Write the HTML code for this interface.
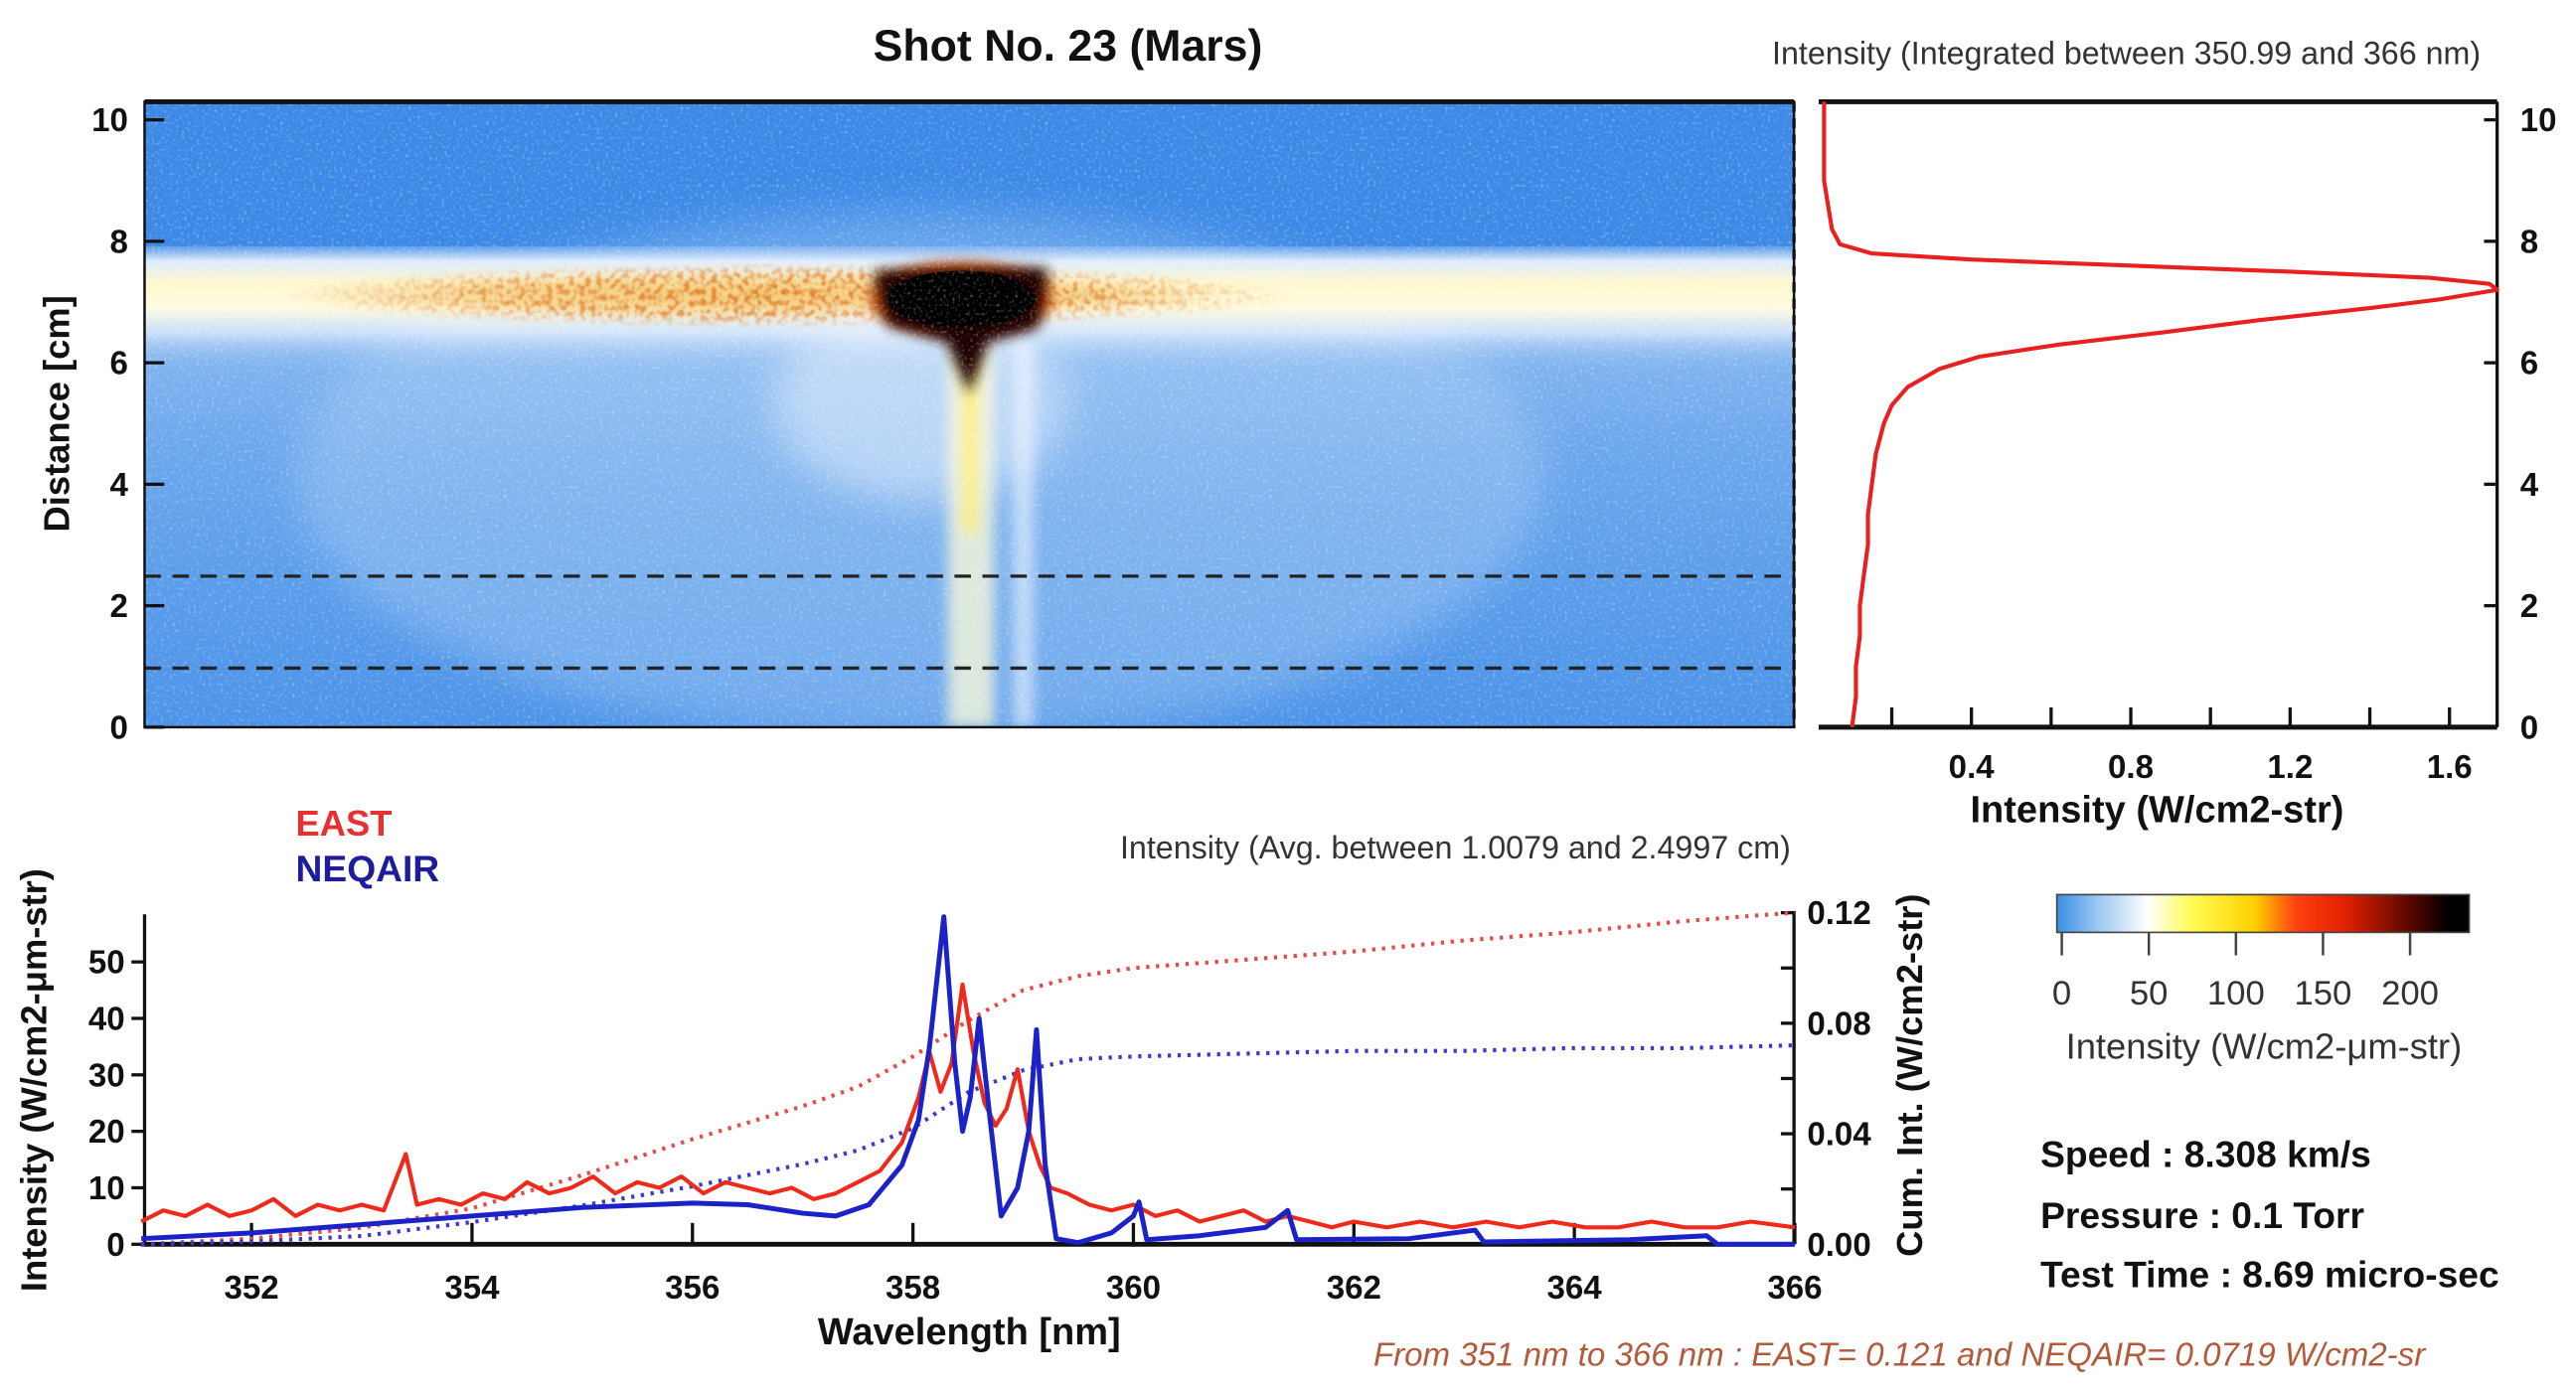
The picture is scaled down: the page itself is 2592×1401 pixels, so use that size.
<!DOCTYPE html>
<html><head><meta charset="utf-8">
<style>
html,body{margin:0;padding:0;background:#fff;}
svg{display:block;}
text{font-family:"Liberation Sans",Arial,sans-serif;}
.t{font-weight:bold;font-size:20px;fill:#111;}
</style></head>
<body>
<svg id="fig" width="2592" height="1401" viewBox="0 0 1568 848" preserveAspectRatio="none" xmlns="http://www.w3.org/2000/svg">
<defs>
  <filter id="blur4" x="-50%" y="-50%" width="200%" height="200%"><feGaussianBlur stdDeviation="4"/></filter>
  <filter id="blur2" x="-50%" y="-50%" width="200%" height="200%"><feGaussianBlur stdDeviation="1.5"/></filter>
  <filter id="blur8" x="-50%" y="-50%" width="200%" height="200%"><feGaussianBlur stdDeviation="12"/></filter>
  <filter id="speckle" x="0" y="0" width="100%" height="100%">
    <feTurbulence type="fractalNoise" baseFrequency="0.55" numOctaves="1" seed="3" result="n"/>
    <feColorMatrix in="n" type="matrix" values="0 0 0 0 1  0 0 0 0 1  0 0 0 0 1  0 0 0 3.2 -1.75"/>
  </filter>
  <filter id="speckleO" x="0" y="0" width="100%" height="100%">
    <feTurbulence type="fractalNoise" baseFrequency="0.3" numOctaves="1" seed="7" result="n"/>
    <feColorMatrix in="n" type="matrix" values="0 0 0 0 0.75  0 0 0 0 0.22  0 0 0 0 0.02  0 0 0 4 -1.8"/>
  </filter>
  <radialGradient id="bandMaskGrad" cx="0.5" cy="0.5" r="0.5">
    <stop offset="0" stop-color="#fff"/>
    <stop offset="0.6" stop-color="#fff" stop-opacity="0.8"/>
    <stop offset="1" stop-color="#fff" stop-opacity="0"/>
  </radialGradient>
  <mask id="bandMask"><rect x="170" y="160" width="620" height="40" fill="url(#bandMaskGrad)"/></mask>
  <linearGradient id="bandGrad" x1="0" y1="0" x2="0" y2="1">
    <stop offset="0" stop-color="#dbeaff" stop-opacity="0.2"/>
    <stop offset="0.12" stop-color="#eef5ff" stop-opacity="0.9"/>
    <stop offset="0.3" stop-color="#fff8d0"/>
    <stop offset="0.5" stop-color="#fffbe0"/>
    <stop offset="0.7" stop-color="#eef5ff" stop-opacity="0.8"/>
    <stop offset="1" stop-color="#cfe3fb" stop-opacity="0"/>
  </linearGradient>
  <linearGradient id="lowGrad" x1="0" y1="0" x2="0" y2="1">
    <stop offset="0" stop-color="#cfe3fb" stop-opacity="0"/>
    <stop offset="0.1" stop-color="#b5d4f6" stop-opacity="0.55"/>
    <stop offset="0.3" stop-color="#9cc6f3" stop-opacity="0.5"/>
    <stop offset="1" stop-color="#6aa6ec" stop-opacity="0.35"/>
  </linearGradient>
  <linearGradient id="cbGrad" x1="0" y1="0" x2="1" y2="0">
    <stop offset="0" stop-color="#3a8ee8"/>
    <stop offset="0.1" stop-color="#9cc8f2"/>
    <stop offset="0.22" stop-color="#ffffff"/>
    <stop offset="0.33" stop-color="#fffb50"/>
    <stop offset="0.48" stop-color="#ffd000"/>
    <stop offset="0.58" stop-color="#ff4010"/>
    <stop offset="0.7" stop-color="#e02000"/>
    <stop offset="0.85" stop-color="#600800"/>
    <stop offset="0.95" stop-color="#000"/>
  </linearGradient>
  <clipPath id="hmClip"><rect x="88" y="62" width="1004" height="381"/></clipPath>
</defs>

<text x="650" y="37" text-anchor="middle" font-size="27" font-weight="bold" fill="#111">Shot No. 23 (Mars)</text>

<g id="heatmap" clip-path="url(#hmClip)">
  <rect x="88" y="62" width="1004" height="381" fill="#3d8ae6"/>
  <rect x="88" y="200" width="1004" height="243" fill="url(#lowGrad)"/>
  <ellipse cx="560" cy="290" rx="380" ry="160" fill="#b9d8f8" opacity="0.35" filter="url(#blur8)"/>
  <rect x="88" y="150" width="1004" height="75" fill="url(#bandGrad)"/>
  <g mask="url(#bandMask)">
    <ellipse cx="450" cy="180" rx="290" ry="11" fill="#f0c060" opacity="0.7" filter="url(#blur4)"/>
    <rect x="170" y="160" width="620" height="40" filter="url(#speckleO)" opacity="0.95"/>
    <g filter="url(#blur2)"><rect x="170" y="160" width="620" height="40" filter="url(#speckleO)" opacity="0.6"/></g>
  </g>
  <ellipse cx="560" cy="245" rx="90" ry="60" fill="#f4f8ff" opacity="0.45" filter="url(#blur8)"/>
  <rect x="577" y="205" width="28" height="238" fill="#fffbd8" opacity="0.75" filter="url(#blur4)"/>
  <rect x="586" y="205" width="9" height="120" fill="#fff070" opacity="0.8" filter="url(#blur4)"/>
  <rect x="617" y="205" width="12" height="238" fill="#f4f8ff" opacity="0.6" filter="url(#blur4)"/>
  <ellipse cx="585" cy="182" rx="55" ry="22" fill="#c04000" filter="url(#blur4)"/>
  <path d="M532,165 L638,163 L632,200 L602,208 L590,240 L576,208 L540,198 Z" fill="#1a0400" filter="url(#blur4)"/>
  <ellipse cx="585" cy="182" rx="45" ry="17" fill="#000"/>
  <rect x="88" y="62" width="1004" height="381" filter="url(#speckle)" opacity="0.35"/>
  <line x1="88" y1="351" x2="1092" y2="351" stroke="#222" stroke-width="2" stroke-dasharray="10,7"/>
  <line x1="88" y1="407" x2="1092" y2="407" stroke="#222" stroke-width="2" stroke-dasharray="10,7"/>
</g>
<rect x="88" y="62" width="1004" height="381" fill="none" stroke="#111" stroke-width="1.5"/>
<line x1="88" y1="62" x2="1092" y2="62" stroke="#111" stroke-width="3"/>
<line x1="1092" y1="62" x2="1092" y2="443" stroke="#111" stroke-width="2" stroke-dasharray="6,4"/>
<g id="hmAxis"></g>
<text transform="translate(42,252) rotate(-90)" text-anchor="middle" font-size="22" font-weight="bold" fill="#111">Distance [cm]</text>

<text x="1510" y="39" text-anchor="end" font-size="19.5" fill="#333">Intensity (Integrated between 350.99 and 366 nm)</text>
<g id="profile"></g>
<text x="1313" y="501" text-anchor="middle" font-size="23" font-weight="bold" fill="#111">Intensity (W/cm2-str)</text>

<text x="180" y="509" font-size="22" font-weight="bold" fill="#e83030">EAST</text>
<text x="180" y="537" font-size="22.5" font-weight="bold" fill="#1c1c9c">NEQAIR</text>
<text x="1090" y="523" text-anchor="end" font-size="19.5" fill="#333">Intensity (Avg. between 1.0079 and 2.4997 cm)</text>
<g id="spec"></g>
<text transform="translate(28,658) rotate(-90)" text-anchor="middle" font-size="22" font-weight="bold" fill="#111">Intensity (W/cm2-μm-str)</text>
<text transform="translate(1170,655) rotate(-90)" text-anchor="middle" font-size="22" font-weight="bold" fill="#111">Cum. Int. (W/cm2-str)</text>
<text x="590" y="819" text-anchor="middle" font-size="23" font-weight="bold" fill="#111">Wavelength [nm]</text>

<g id="cbar">
  <rect x="1252" y="545" width="251" height="23" fill="url(#cbGrad)" stroke="#444" stroke-width="1"/>
</g>
<text x="1378" y="645" text-anchor="middle" font-size="22" fill="#333">Intensity (W/cm2-μm-str)</text>

<text x="1242" y="711" font-size="22.5" font-weight="bold" fill="#111">Speed : 8.308 km/s</text>
<text x="1242" y="748" font-size="22.5" font-weight="bold" fill="#111">Pressure : 0.1 Torr</text>
<text x="1242" y="784" font-size="22.5" font-weight="bold" fill="#111">Test Time : 8.69 micro-sec</text>
<text x="836" y="832" font-size="20" font-style="italic" fill="#b35a3a">From 351 nm to 366 nm :  EAST= 0.121 and NEQAIR= 0.0719 W/cm2-sr</text>
</svg>

<script>
// ---- Data ----
const distTicks = [0, 2, 4, 6, 8, 10];
const profDist = [0, 0.5, 1, 1.5, 2, 2.5, 3, 3.5, 4, 4.5, 5, 5.3, 5.6, 5.9, 6.1, 6.3, 6.5, 6.7, 6.9, 7.05, 7.2, 7.3, 7.4, 7.5, 7.6, 7.7, 7.8, 7.95, 8.2, 8.6, 9, 9.5, 10, 10.3];
const profInt  = [0.10, 0.11, 0.11, 0.12, 0.12, 0.13, 0.14, 0.14, 0.15, 0.16, 0.18, 0.20, 0.24, 0.32, 0.42, 0.62, 0.88, 1.12, 1.40, 1.58, 1.72, 1.70, 1.55, 1.20, 0.80, 0.40, 0.15, 0.07, 0.05, 0.04, 0.03, 0.03, 0.03, 0.03];
const profTicks = [0.4, 0.8, 1.2, 1.6];
const wlTicks = [352, 354, 356, 358, 360, 362, 364, 366];
const intTicks = [0, 10, 20, 30, 40, 50];
const cumTicks = [0.00, 0.04, 0.08, 0.12];
const eastWl  = [351,351.2,351.4,351.6,351.8,352,352.2,352.4,352.6,352.8,353,353.2,353.4,353.5,353.7,353.9,354.1,354.3,354.5,354.7,354.9,355.1,355.3,355.5,355.7,355.9,356.1,356.3,356.5,356.7,356.9,357.1,357.3,357.5,357.7,357.9,358.05,358.15,358.25,358.35,358.45,358.55,358.65,358.75,358.85,358.95,359.05,359.15,359.25,359.4,359.6,359.8,360,360.2,360.4,360.6,360.8,361,361.2,361.4,361.6,361.8,362,362.3,362.6,362.9,363.2,363.5,363.8,364.1,364.4,364.7,365,365.3,365.6,366];
const eastVal = [4,6,5,7,5,6,8,5,7,6,7,6,16,7,8,7,9,8,11,9,10,12,9,11,10,12,9,11,10,9,10,8,9,11,13,18,26,34,27,32,46,34,25,21,24,31,20,14,10,9,7,6,7,5,6,4,5,6,4,5,4,3,4,3,4,3,4,3,4,3,3,4,3,3,4,3];
const neqWl  = [351,352,353,354,355,356,356.5,357,357.3,357.6,357.9,358.05,358.15,358.28,358.38,358.45,358.52,358.6,358.7,358.8,358.95,359.05,359.12,359.2,359.3,359.5,359.8,360,360.05,360.12,360.6,361.2,361.4,361.48,362.5,363.1,363.18,364.5,365.2,365.3,366];
const neqVal = [1,2,3.5,5,6.5,7.3,7,5.5,5,7,14,22,35,58,32,20,26,40,22,5,10,20,38,14,1,0.3,2,5,7.5,0.8,1.5,3,6,0.8,1,2.5,0.4,0.8,1.5,0,0];
const cumWl   = [351,352,353,354,355,356,357,357.5,358,358.5,359,359.5,360,361,362,363,364,365,366];
const cumEast = [0,0.002,0.006,0.013,0.025,0.038,0.05,0.057,0.068,0.081,0.092,0.097,0.1,0.103,0.106,0.11,0.113,0.117,0.12];
const cumNeq  = [0,0.001,0.003,0.008,0.014,0.021,0.029,0.034,0.042,0.055,0.063,0.067,0.068,0.069,0.07,0.07,0.071,0.071,0.072];
const cbTicks = [0, 50, 100, 150, 200];

const NS = "http://www.w3.org/2000/svg";
function mk(tag, parent, attrs) {
  const e = document.createElementNS(NS, tag);
  for (const k in attrs) e.setAttribute(k, attrs[k]);
  parent.appendChild(e);
  return e;
}
const yDist = d => 443 - d * 37;
const xProf = v => 1103 + v * 242.5;
const xWl = w => 86 + (w - 351) * 67.1;
const yInt = v => 758 - v * 3.44;
const yCum = v => 758 - v * 1683;
const xCb = v => 1255 + v * 1.06;

const hmAxis = document.getElementById('hmAxis');
distTicks.forEach(d => {
  const l = mk('line', hmAxis, {x1: 88, x2: 100, y1: yDist(d), y2: yDist(d), stroke: '#111', 'stroke-width': 2});
  
  
  const t = mk('text', hmAxis, {x: 78, y: yDist(d) + 7, 'text-anchor': 'end', class: 't'});
  t.textContent = d;
  
  
});

const prof = document.getElementById('profile');
mk('line', prof, {x1: 1107, x2: 1520, y1: 62, y2: 62, stroke: '#111', 'stroke-width': 3});
mk('line', prof, {x1: 1107, x2: 1520, y1: 443, y2: 443, stroke: '#111', 'stroke-width': 3});
mk('line', prof, {x1: 1520, x2: 1520, y1: 62, y2: 443, stroke: '#111', 'stroke-width': 2});
distTicks.forEach(d => {
  mk('line', prof, {x1: 1512, x2: 1520, y1: yDist(d), y2: yDist(d), stroke: '#111', 'stroke-width': 2});
  const t = mk('text', prof, {x: 1534, y: yDist(d) + 7, class: 't'});
  t.textContent = d;
  
  
});
for (let v = 0.2; v <= 1.61; v += 0.2) {
  mk('line', prof, {x1: xProf(v), x2: xProf(v), y1: 443, y2: 431, stroke: '#111', 'stroke-width': 2});
}
profTicks.forEach(v => {
  const t = mk('text', prof, {x: xProf(v), y: 474, 'text-anchor': 'middle', class: 't'});
  t.textContent = v.toFixed(1);
  
  
});
let pd = profDist.map((d, i) => (i ? 'L' : 'M') + xProf(profInt[i]).toFixed(1) + ',' + yDist(d).toFixed(1)).join(' ');
const pl = mk('path', prof, {d: pd, fill: 'none', stroke: '#e82020', 'stroke-width': 2.5, 'stroke-linejoin': 'round'});



const spec = document.getElementById('spec');
mk('line', spec, {x1: 88, x2: 88, y1: 557, y2: 758, stroke: '#111', 'stroke-width': 2});
mk('line', spec, {x1: 1092, x2: 1092, y1: 555, y2: 758, stroke: '#111', 'stroke-width': 2});
mk('line', spec, {x1: 86, x2: 1092, y1: 758, y2: 758, stroke: '#111', 'stroke-width': 3});
wlTicks.forEach(w => {
  mk('line', spec, {x1: xWl(w), x2: xWl(w), y1: 758, y2: 745, stroke: '#111', 'stroke-width': 2});
  const t = mk('text', spec, {x: xWl(w), y: 791, 'text-anchor': 'middle', class: 't'});
  t.textContent = w;
  
  
});
intTicks.forEach(v => {
  mk('line', spec, {x1: 80, x2: 88, y1: yInt(v), y2: yInt(v), stroke: '#111', 'stroke-width': 2});
  const t = mk('text', spec, {x: 76, y: yInt(v) + 7, 'text-anchor': 'end', class: 't'});
  t.textContent = v;
  
  
});
cumTicks.forEach((v, i) => {
  mk('line', spec, {x1: 1084, x2: 1092, y1: yCum(v), y2: yCum(v), stroke: '#111', 'stroke-width': 2});
  if (i < cumTicks.length - 1) mk('line', spec, {x1: 1084, x2: 1092, y1: yCum(v + 0.02), y2: yCum(v + 0.02), stroke: '#111', 'stroke-width': 2});
  const t = mk('text', spec, {x: 1100, y: yCum(v) + 7, class: 't'});
  t.textContent = v.toFixed(2);
  
  
});
function path(xs, ys, fx, fy) {
  return xs.map((x, i) => (i ? 'L' : 'M') + fx(x).toFixed(1) + ',' + fy(ys[i]).toFixed(1)).join(' ');
}
const ce = mk('path', spec, {d: path(cumWl, cumEast, xWl, yCum), fill: 'none', stroke: '#e84a4a', 'stroke-width': 2.5, 'stroke-dasharray': '2,4'});


const cn = mk('path', spec, {d: path(cumWl, cumNeq, xWl, yCum), fill: 'none', stroke: '#3a3ad0', 'stroke-width': 2.5, 'stroke-dasharray': '2,4'});


const el = mk('path', spec, {d: path(eastWl, eastVal, xWl, yInt), fill: 'none', stroke: '#f02a1a', 'stroke-width': 2.5, 'stroke-linejoin': 'round'});


const nl = mk('path', spec, {d: path(neqWl, neqVal, xWl, yInt), fill: 'none', stroke: '#1a22c8', 'stroke-width': 3, 'stroke-linejoin': 'round'});



const cb = document.getElementById('cbar');
cbTicks.forEach(v => {
  mk('line', cb, {x1: xCb(v), x2: xCb(v), y1: 568, y2: 582, stroke: '#444', 'stroke-width': 1.5});
  const t = mk('text', cb, {x: xCb(v), y: 612, 'text-anchor': 'middle', 'font-size': 21, fill: '#333'});
  t.textContent = v;
  
  
});
</script>
</body></html>
